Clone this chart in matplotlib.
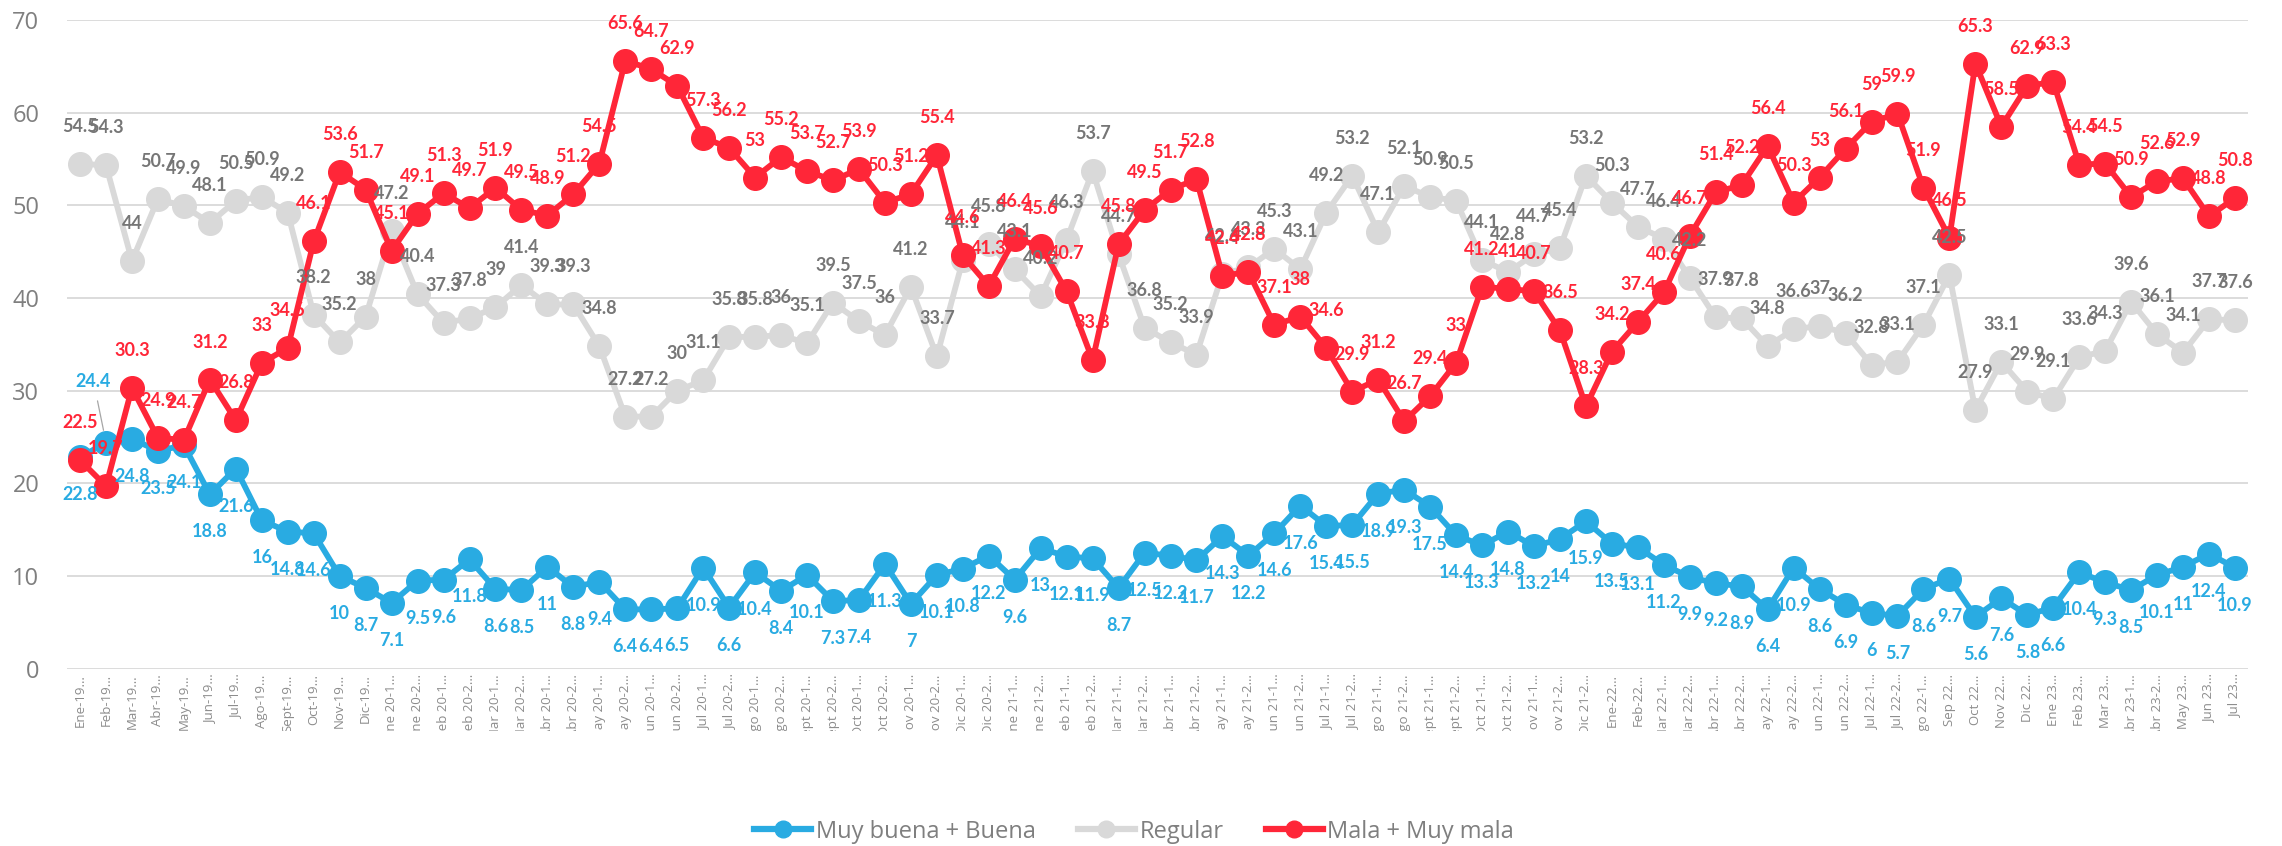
import matplotlib
matplotlib.use('Agg')
import matplotlib.pyplot as plt
from matplotlib.lines import Line2D
from matplotlib.transforms import Bbox, TransformedBbox

# categorias (etiquetas tal como aparecen, truncadas)
labels = ['Ene-19…', 'Feb-19…', 'Mar-19…', 'Abr-19…', 'May-19…', 'Jun-19…', 'Jul-19…', 'Ago-19…',
          'Sept-19…', 'Oct-19…', 'Nov-19…', 'Dic-19…',
          'Ene 20-1…', 'Ene 20-2…', 'Feb 20-1…', 'Feb 20-2…', 'Mar 20-1…', 'Mar 20-2…',
          'Abr 20-1…', 'Abr 20-2…', 'May 20-1…', 'May 20-2…', 'Jun 20-1…', 'Jun 20-2…',
          'Jul 20-1…', 'Jul 20-2…', 'Ago 20-1…', 'Ago 20-2…', 'Sept 20-1…', 'Sept 20-2…',
          'Oct 20-1…', 'Oct 20-2…', 'Nov 20-1…', 'Nov 20-2…', 'Dic 20-1…', 'Dic 20-2…',
          'Ene 21-1…', 'Ene 21-2…', 'Feb 21-1…', 'Feb 21-2…', 'Mar 21-1…', 'Mar 21-2…',
          'Abr 21-1…', 'Abr 21-2…', 'May 21-1…', 'May 21-2…', 'Jun 21-1…', 'Jun 21-2…',
          'Jul 21-1…', 'Jul 21-2…', 'Ago 21-1…', 'Ago 21-2…', 'Sept 21-1…', 'Sept 21-2…',
          'Oct 21-1…', 'Oct 21-2…', 'Nov 21-1…', 'Nov 21-2…', 'Dic 21-2…',
          'Ene-22…', 'Feb-22…', 'Mar 22-1…', 'Mar 22-2…', 'Abr 22-1…', 'Abr 22-2…',
          'May 22-1…', 'May 22-2…', 'Jun 22-1…', 'Jun 22-2…', 'Jul 22-1…', 'Jul 22-2…',
          'Ago 22-1…', 'Sep 22…', 'Oct 22…', 'Nov 22…', 'Dic 22…',
          'Ene 23…', 'Feb 23…', 'Mar 23…', 'Abr 23-1…', 'Abr 23-2…', 'May 23…', 'Jun 23…', 'Jul 23…']

muy_buena = [22.8, 24.4, 24.8, 23.5, 24.1, 18.8, 21.6, 16, 14.8, 14.6,
             10, 8.7, 7.1, 9.5, 9.6, 11.8, 8.6, 8.5, 11, 8.8,
             9.4, 6.4, 6.4, 6.5, 10.9, 6.6, 10.4, 8.4, 10.1, 7.3,
             7.4, 11.3, 7, 10.1, 10.8, 12.2, 9.6, 13, 12.1, 11.9,
             8.7, 12.5, 12.2, 11.7, 14.3, 12.2, 14.6, 17.6, 15.4, 15.5,
             18.9, 19.3, 17.5, 14.4, 13.3, 14.8, 13.2, 14, 15.9, 13.5,
             13.1, 11.2, 9.9, 9.2, 8.9, 6.4, 10.9, 8.6, 6.9, 6,
             5.7, 8.6, 9.7, 5.6, 7.6, 5.8, 6.6, 10.4, 9.3, 8.5,
             10.1, 11, 12.4, 10.9]

regular = [54.5, 54.3, 44, 50.7, 49.9, 48.1, 50.5, 50.9, 49.2, 38.2,
           35.2, 38, 47.2, 40.4, 37.3, 37.8, 39, 41.4, 39.3, 39.3,
           34.8, 27.2, 27.2, 30, 31.1, 35.8, 35.8, 36, 35.1, 39.5,
           37.5, 36, 41.2, 33.7, 44.1, 45.8, 43.1, 40.2, 46.3, 53.7,
           44.7, 36.8, 35.2, 33.9, 42.6, 43.3, 45.3, 43.1, 49.2, 53.2,
           47.1, 52.1, 50.9, 50.5, 44.1, 42.8, 44.7, 45.4, 53.2, 50.3,
           47.7, 46.4, 42.2, 37.9, 37.8, 34.8, 36.6, 37, 36.2, 32.8,
           33.1, 37.1, 42.5, 27.9, 33.1, 29.9, 29.1, 33.6, 34.3, 39.6,
           36.1, 34.1, 37.7, 37.6]

mala = [22.5, 19.7, 30.3, 24.9, 24.7, 31.2, 26.8, 33, 34.6, 46.1,
        53.6, 51.7, 45.1, 49.1, 51.3, 49.7, 51.9, 49.5, 48.9, 51.2,
        54.5, 65.6, 64.7, 62.9, 57.3, 56.2, 53, 55.2, 53.7, 52.7,
        53.9, 50.3, 51.2, 55.4, 44.6, 41.3, 46.4, 45.6, 40.7, 33.3,
        45.8, 49.5, 51.7, 52.8, 42.4, 42.8, 37.1, 38, 34.6, 29.9,
        31.2, 26.7, 29.4, 33, 41.2, 41, 40.7, 36.5, 28.3, 34.2,
        37.4, 40.6, 46.7, 51.4, 52.2, 56.4, 50.3, 53, 56.1, 59,
        59.9, 51.9, 46.5, 65.3, 58.5, 62.9, 63.3, 54.4, 54.5, 50.9,
        52.6, 52.9, 48.8, 50.8]

azul = '#29ABE2'
gris = '#D9D9D9'
rojo = '#FF2638'
texto_gris = '#7F7F7F'

fig = plt.figure(figsize=(22.82, 8.46), dpi=100)
ax = fig.add_axes([0.0294, 0.2096, 0.9557, 0.7668])
x = list(range(len(labels)))

# serie, color linea, color etiqueta, desplazamiento etiqueta (pt), zorder, nombre
series = [
    (muy_buena, azul, azul, -27, 3, 'Muy buena + Buena'),
    (regular, gris, '#767676', 27, 4, 'Regular'),
    (mala, rojo, rojo, 27, 5, 'Mala + Muy mala'),
]

handles = []
for vals, c, lc, dy, z, name in series:
    ax.plot(x, vals, color=c, lw=4.2, marker='o', markersize=17, zorder=z, solid_capstyle='round')
    handles.append(Line2D([0], [0], color=c, lw=4.5, marker='o', markersize=12, label=name))
    for i, v in enumerate(vals):
        txt = '%g' % v
        if vals is muy_buena and i == 1:
            # etiqueta movida arriba con linea guia
            ax.annotate(txt, (i, v), xytext=(-9, 44), textcoords='offset points',
                        ha='center', va='center', color=lc, fontsize=13, fontweight='bold',
                        family='Lato', zorder=10,
                        arrowprops=dict(arrowstyle='-', color='#A6A6A6', lw=0.9,
                                        shrinkA=6, shrinkB=9))
            continue
        ax.annotate(txt, (i, v), xytext=(0, dy), textcoords='offset points',
                    ha='center', va='center', color=lc, fontsize=13, fontweight='bold',
                    family='Lato', zorder=10 + z)

ax.set_xlim(-0.5, len(labels) - 0.5)
ax.set_ylim(0, 70)
ax.set_yticks(range(0, 71, 10))
ax.set_xticks(x)
ax.set_xticklabels(labels, rotation=90, va='top', ha='center', family='Open Sans',
                   fontsize=9.5, color='#8C8C8C')
for t in ax.get_yticklabels():
    t.set_family('Open Sans')
ax.tick_params(axis='y', length=0, labelsize=17, labelcolor=texto_gris, pad=20)
ax.tick_params(axis='x', length=0, pad=4)
ax.yaxis.grid(True, color=gris, lw=1.3)
ax.set_axisbelow(True)
for s in ax.spines.values():
    s.set_visible(False)

# recorte de las etiquetas del eje x como en el original
clip = TransformedBbox(Bbox([[0, 0.1365], [1, 1]]), fig.transFigure)
for t in ax.get_xticklabels():
    t.set_clip_on(True)
    t.set_clip_box(clip)

fig.legend(handles=handles, loc='center', bbox_to_anchor=(0.497, 0.017), ncol=3, frameon=False,
           prop={'family': 'Open Sans', 'size': 17}, labelcolor=texto_gris,
           handlelength=2.4, columnspacing=1.8, handletextpad=0.2)

fig.savefig('out.png', dpi=100)
